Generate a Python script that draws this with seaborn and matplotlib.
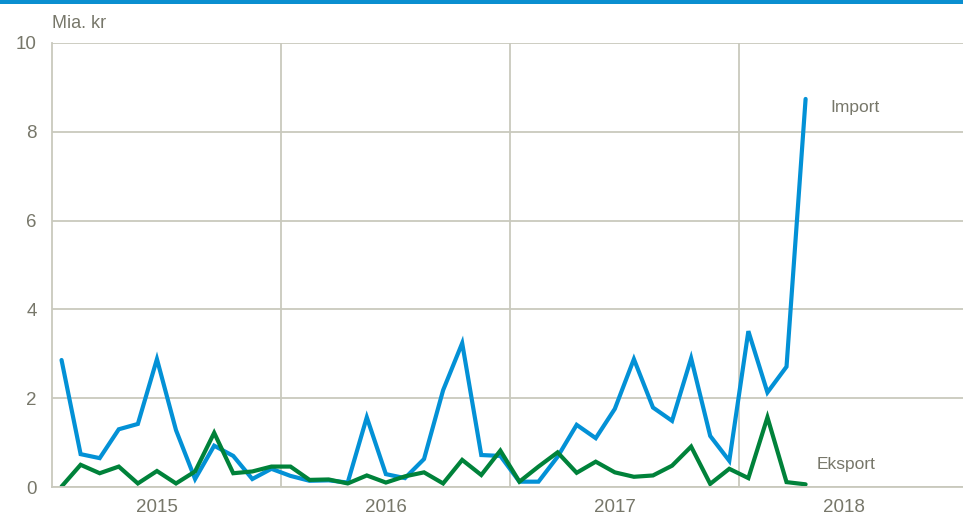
import numpy as np
import pandas as pd
import seaborn as sns
import matplotlib.pyplot as plt
from matplotlib.patches import Rectangle

# monthly values, Jan 2015 - Apr 2018 (mia. kr)
months = pd.period_range('2015-01', '2018-04', freq='M')
import_vals = [2.86, 0.74, 0.65, 1.30, 1.42, 2.88, 1.28, 0.18, 0.93, 0.70, 0.18, 0.41,
               0.25, 0.14, 0.15, 0.10, 1.57, 0.29, 0.20, 0.63, 2.18, 3.24, 0.72, 0.70,
               0.12, 0.12, 0.68, 1.40, 1.10, 1.76, 2.88, 1.79, 1.49, 2.90, 1.15, 0.59,
               3.51, 2.13, 2.71, 8.74]
eksport_vals = [0.01, 0.50, 0.31, 0.46, 0.08, 0.36, 0.08, 0.35, 1.22, 0.31, 0.35, 0.46,
                0.46, 0.16, 0.17, 0.08, 0.26, 0.10, 0.24, 0.33, 0.08, 0.61, 0.27, 0.82,
                0.12, 0.46, 0.78, 0.32, 0.57, 0.33, 0.23, 0.26, 0.48, 0.91, 0.07, 0.41,
                0.20, 1.57, 0.11, 0.06]
years = ['2015', '2016', '2017', '2018']
yticks = [0, 2, 4, 6, 8, 10]

series_colors = {'Import': '#0391d6', 'Eksport': '#00823a'}
text_col = '#77776a'
grid_col = '#c9c9bd'

# month position: mid-month, counted from Jan 2015
pos = np.arange(len(months)) + 0.5
df = pd.concat([
    pd.DataFrame({'pos': pos, 'value': import_vals, 'serie': 'Import'}),
    pd.DataFrame({'pos': pos, 'value': eksport_vals, 'serie': 'Eksport'}),
])

sns.set_style('white')
plt.rcParams['font.family'] = ['Liberation Sans Narrow', 'Liberation Sans', 'DejaVu Sans']

fig = plt.figure(figsize=(9.63, 5.2), dpi=100)
ax = fig.add_axes([52 / 963, 33 / 520, (963 - 52) / 963, 444 / 520])

sns.lineplot(data=df, x='pos', y='value', hue='serie', palette=series_colors,
             linewidth=3, legend=False, ax=ax, solid_joinstyle='miter')

ax.set_xlim(0, 47.75)
ax.set_ylim(0, 10)
ax.set_yticks(yticks)
ax.set_yticklabels([str(t) for t in yticks])
ax.set_xticks([12, 24, 36])
ax.set_xticklabels([])
ax.set_xticks([5.5 + 12 * i for i in range(len(years))], minor=True)
ax.set_xticklabels(years, minor=True)
ax.tick_params(axis='both', which='both', length=0, colors=text_col, labelsize=13.5)
ax.tick_params(axis='y', pad=11)
ax.tick_params(axis='x', which='minor', pad=9)

ax.grid(True, which='major', color=grid_col, linewidth=1.3)
ax.set_axisbelow(True)
for side in ['top', 'right']:
    ax.spines[side].set_visible(False)
for side in ['left', 'bottom']:
    ax.spines[side].set_color(grid_col)
    ax.spines[side].set_linewidth(1.3)
ax.set_xlabel('')
ax.set_ylabel('')

ax.text(0, 10.25, 'Mia. kr', color=text_col, fontsize=13, va='bottom', ha='left')
ax.text(40.8, import_vals[-1] - 0.2, 'Import', color=text_col, fontsize=12.5, va='center')
ax.text(40.1, 0.5, 'Eksport', color=text_col, fontsize=12.5, va='center')

# blue band along the top edge
fig.add_artist(Rectangle((0, 1 - 4 / 520), 1, 4 / 520, transform=fig.transFigure,
                         color='#0a8fd0', linewidth=0))

fig.savefig('out.png', dpi=100)
